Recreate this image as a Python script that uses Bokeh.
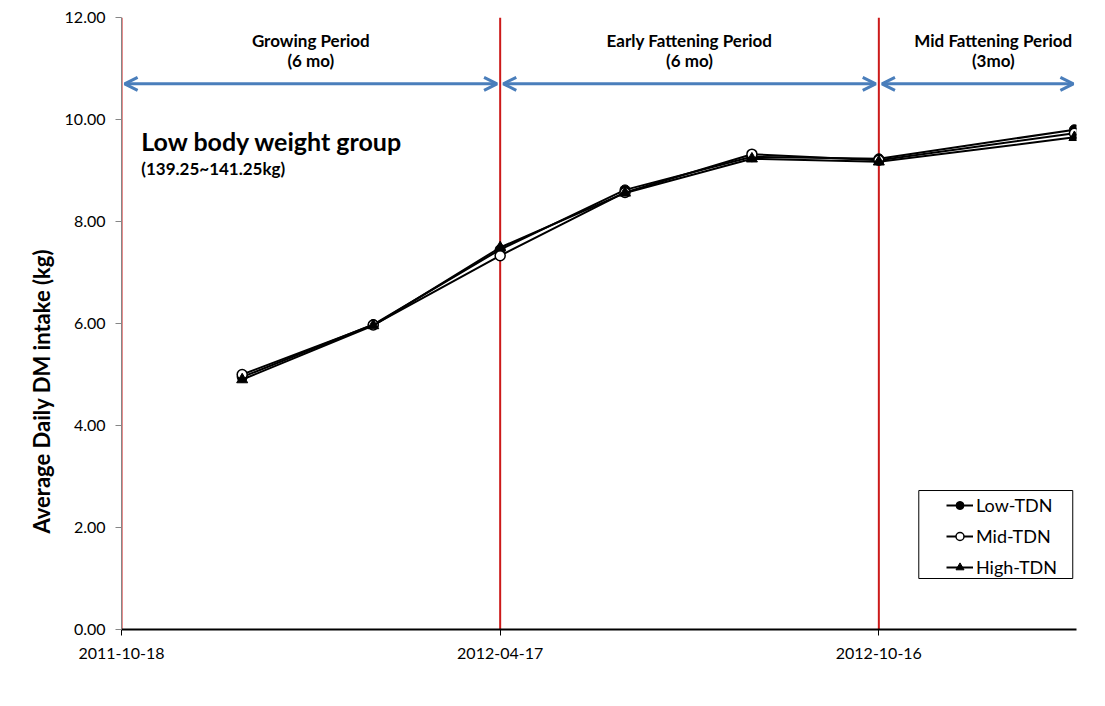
from datetime import datetime, timezone
from bokeh.plotting import figure
from bokeh.models import (Span, Label, Arrow, OpenHead, FixedTicker, DatetimeTickFormatter,
                          Legend, LegendItem, Range1d, NumeralTickFormatter, BoxAnnotation, Title)
from bokeh.embed import file_html
from bokeh.resources import INLINE

# ---------------- data ----------------
sample_dates = ["2011-12-15", "2012-02-16", "2012-04-17", "2012-06-16",
                "2012-08-16", "2012-10-16", "2013-01-18"]
low_tdn = [4.95, 5.98, 7.45, 8.62, 9.27, 9.23, 9.80]
mid_tdn = [5.00, 5.97, 7.33, 8.57, 9.32, 9.20, 9.73]
high_tdn = [4.90, 5.96, 7.49, 8.56, 9.23, 9.17, 9.65]
tick_dates = ["2011-10-18", "2012-04-17", "2012-10-16"]
y_ticks = [0, 2, 4, 6, 8, 10, 12]
period_names = ["Growing Period", "Early Fattening Period", "Mid Fattening Period"]
period_lengths = ["(6 mo)", "(6 mo)", "(3mo)"]
period_starts = ["2011-10-18", "2012-04-17", "2012-10-16"]
period_ends = ["2012-04-17", "2012-10-16", "2013-01-19"]
x_start, x_end = "2011-10-18", "2013-01-19"


def ms(d):
    return datetime.fromisoformat(d).replace(tzinfo=timezone.utc).timestamp() * 1000.0


def dt(d):
    return datetime.fromisoformat(d)


DAY = 86400000.0
FONT = "Lato"
x0 = ms(x_start)

p = figure(width=1089, height=690, output_backend="svg", toolbar_location=None,
           x_axis_type="datetime",
           x_range=Range1d(ms(x_start), ms(x_end)), y_range=Range1d(0, 12),
           min_border_left=121, min_border_right=13, min_border_top=17, min_border_bottom=61)
p.outline_line_color = None
p.xgrid.visible = False
p.ygrid.visible = False
p.background_fill_color = "white"
p.border_fill_color = "white"

# red period separators
for d in tick_dates:
    p.add_layout(Span(location=ms(d), dimension="height", line_color="#CC1A1A",
                      line_width=2, level="underlay"))

# series
xs = [dt(d) for d in sample_dates]
l1 = p.line(xs, low_tdn, line_color="black", line_width=2)
s1 = p.scatter(xs, low_tdn, marker="circle", size=10, fill_color="black", line_color="black")
l2 = p.line(xs, mid_tdn, line_color="black", line_width=2)
s2 = p.scatter(xs, mid_tdn, marker="circle", size=10, fill_color="white", line_color="black", line_width=1.5)
l3 = p.line(xs, high_tdn, line_color="black", line_width=2)
s3 = p.scatter(xs, high_tdn, marker="triangle", size=11, fill_color="black", line_color="black")

# period arrows and labels
arrow_y = 10.70
for i in range(3):
    a, b = ms(period_starts[i]), ms(period_ends[i])
    p.add_layout(Arrow(x_start=a + 1.5 * DAY, y_start=arrow_y, x_end=b - 1.5 * DAY, y_end=arrow_y,
                       line_color="#4A7EBB", line_width=3,
                       start=OpenHead(size=13, line_color="#4A7EBB", line_width=3),
                       end=OpenHead(size=13, line_color="#4A7EBB", line_width=3)))
label_centers_days = [91, 273, 419]
for i in range(3):
    cx = x0 + label_centers_days[i] * DAY
    p.add_layout(Label(x=cx, y=11.55, text=period_names[i], text_align="center",
                       text_baseline="middle", text_font=FONT, text_font_style="bold",
                       text_font_size="17px", text_color="black"))
    p.add_layout(Label(x=cx, y=11.15, text=period_lengths[i], text_align="center",
                       text_baseline="middle", text_font=FONT, text_font_style="bold",
                       text_font_size="17px", text_color="black"))

p.add_layout(Label(x=x0 + 9.5 * DAY, y=9.58, text="Low body weight group", text_align="left",
                   text_baseline="middle", text_font=FONT, text_font_style="bold",
                   text_font_size="25px", text_color="black"))
p.add_layout(Label(x=x0 + 9.5 * DAY, y=9.04, text="(139.25~141.25kg)", text_align="left",
                   text_baseline="middle", text_font=FONT, text_font_style="bold",
                   text_font_size="17px", text_color="black"))

# axes
xa = p.xaxis[0]
xa.ticker = FixedTicker(ticks=[ms(d) for d in tick_dates])
fmt = "%Y-%m-%d"
xa.formatter = DatetimeTickFormatter(milliseconds=fmt, seconds=fmt, minsec=fmt, minutes=fmt,
                                     hourmin=fmt, hours=fmt, days=fmt, months=fmt, years=fmt)
xa.axis_line_color = "black"
xa.axis_line_width = 2
xa.major_tick_line_color = "black"
xa.major_tick_out = 6
xa.major_tick_in = 0
xa.minor_tick_line_color = None
xa.major_label_text_font = FONT
xa.major_label_text_font_size = "16px"
xa.major_label_text_color = "black"
xa.major_label_standoff = 12

ya = p.yaxis[0]
ya.ticker = FixedTicker(ticks=y_ticks)
ya.formatter = NumeralTickFormatter(format="0.00")
ya.axis_line_color = "#868686"
ya.major_tick_line_color = "#868686"
ya.major_tick_out = 6
ya.major_tick_in = 0
ya.minor_tick_line_color = None
ya.major_label_text_font = FONT
ya.major_label_text_font_size = "16px"
ya.major_label_text_color = "black"
ya.major_label_standoff = 10

# y-axis title (placed lower than centre, like the reference)
ytitle = Title(text="Average Daily DM intake (kg)", align="left", offset=96,
               text_font=FONT, text_font_style="bold", text_font_size="22px",
               text_color="black", standoff=13)
p.add_layout(ytitle, "left")

# legend box + legend
p.add_layout(BoxAnnotation(left=x0 + 383.2 * DAY, right=x0 + 457.2 * DAY, bottom=1.0, top=2.725,
                           fill_color="white", fill_alpha=1.0, line_color="black", line_alpha=1.0,
                           line_width=1, level="annotation"))
legend = Legend(items=[LegendItem(label="Low-TDN", renderers=[l1, s1]),
                       LegendItem(label="Mid-TDN", renderers=[l2, s2]),
                       LegendItem(label="High-TDN", renderers=[l3, s3])],
                location=(825, 51), padding=5, spacing=9, margin=0,
                label_height=20, glyph_height=20, glyph_width=27, label_standoff=3,
                border_line_color=None, background_fill_alpha=0.0,
                label_text_font=FONT, label_text_font_size="18px", label_text_color="black")
p.add_layout(legend)

open("out.html", "w").write(file_html(p, INLINE))
